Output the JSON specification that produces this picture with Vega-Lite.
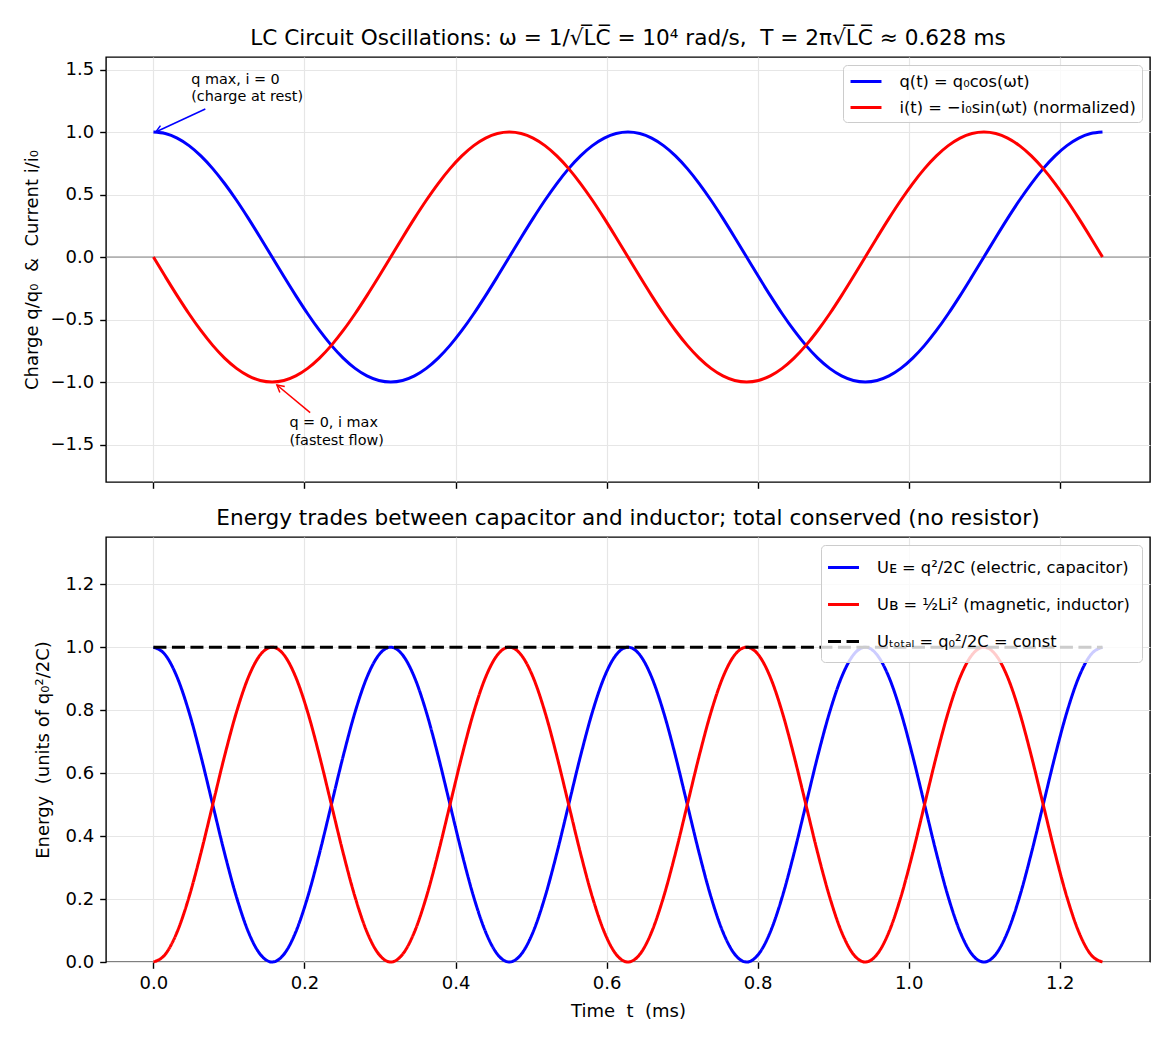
{
  "$schema": "https://vega.github.io/schema/vega-lite/v6.json",
  "padding": {"left": 23, "top": 27, "right": 20, "bottom": 5},
  "spacing": 17,
  "config": {
    "font": "DejaVu Sans",
    "view": {"stroke": "black", "strokeWidth": 1.4},
    "axis": {
      "labelFont": "DejaVu Sans", "labelFontSize": 18, "labelColor": "black",
      "titleFont": "DejaVu Sans", "titleFontSize": 18, "titleFontWeight": "normal", "titleColor": "black",
      "tickColor": "black", "tickWidth": 1.4, "tickSize": 6.3, "labelPadding": 6,
      "domain": false, "gridColor": "#e6e6e6", "gridWidth": 1.2, "titlePadding": 8
    },
    "title": {"font": "DejaVu Sans", "fontSize": 21.6, "fontWeight": "normal", "color": "black", "anchor": "middle", "offset": 7},
    "legend": {
      "orient": "top-right", "offset": 8, "labelFont": "DejaVu Sans", "labelFontSize": 16.25, "labelColor": "black",
      "labelLimit": 600, "symbolType": "M-1.72,0L1.72,0", "symbolSize": 324, "symbolStrokeWidth": 3,
      "fillColor": "rgba(255,255,255,0.8)", "strokeColor": "#cccccc", "cornerRadius": 4
    }
  },
  "datasets": {
    "lc": [
      {"t": 0, "q": 1, "i": 0, "ue": 1, "ub": 0, "tot": 1},
      {"t": 0.0157, "q": 0.9877, "i": -0.1564, "ue": 0.9755, "ub": 0.0245, "tot": 1},
      {"t": 0.0314, "q": 0.9511, "i": -0.309, "ue": 0.9045, "ub": 0.0955, "tot": 1},
      {"t": 0.0471, "q": 0.891, "i": -0.454, "ue": 0.7939, "ub": 0.2061, "tot": 1},
      {"t": 0.0628, "q": 0.809, "i": -0.5878, "ue": 0.6545, "ub": 0.3455, "tot": 1},
      {"t": 0.0785, "q": 0.7071, "i": -0.7071, "ue": 0.5, "ub": 0.5, "tot": 1},
      {"t": 0.0942, "q": 0.5878, "i": -0.809, "ue": 0.3455, "ub": 0.6545, "tot": 1},
      {"t": 0.11, "q": 0.454, "i": -0.891, "ue": 0.2061, "ub": 0.7939, "tot": 1},
      {"t": 0.1257, "q": 0.309, "i": -0.9511, "ue": 0.0955, "ub": 0.9045, "tot": 1},
      {"t": 0.1414, "q": 0.1564, "i": -0.9877, "ue": 0.0245, "ub": 0.9755, "tot": 1},
      {"t": 0.1571, "q": 0, "i": -1, "ue": 0, "ub": 1, "tot": 1},
      {"t": 0.1728, "q": -0.1564, "i": -0.9877, "ue": 0.0245, "ub": 0.9755, "tot": 1},
      {"t": 0.1885, "q": -0.309, "i": -0.9511, "ue": 0.0955, "ub": 0.9045, "tot": 1},
      {"t": 0.2042, "q": -0.454, "i": -0.891, "ue": 0.2061, "ub": 0.7939, "tot": 1},
      {"t": 0.2199, "q": -0.5878, "i": -0.809, "ue": 0.3455, "ub": 0.6545, "tot": 1},
      {"t": 0.2356, "q": -0.7071, "i": -0.7071, "ue": 0.5, "ub": 0.5, "tot": 1},
      {"t": 0.2513, "q": -0.809, "i": -0.5878, "ue": 0.6545, "ub": 0.3455, "tot": 1},
      {"t": 0.267, "q": -0.891, "i": -0.454, "ue": 0.7939, "ub": 0.2061, "tot": 1},
      {"t": 0.2827, "q": -0.9511, "i": -0.309, "ue": 0.9045, "ub": 0.0955, "tot": 1},
      {"t": 0.2985, "q": -0.9877, "i": -0.1564, "ue": 0.9755, "ub": 0.0245, "tot": 1},
      {"t": 0.3142, "q": -1, "i": 0, "ue": 1, "ub": 0, "tot": 1},
      {"t": 0.3299, "q": -0.9877, "i": 0.1564, "ue": 0.9755, "ub": 0.0245, "tot": 1},
      {"t": 0.3456, "q": -0.9511, "i": 0.309, "ue": 0.9045, "ub": 0.0955, "tot": 1},
      {"t": 0.3613, "q": -0.891, "i": 0.454, "ue": 0.7939, "ub": 0.2061, "tot": 1},
      {"t": 0.377, "q": -0.809, "i": 0.5878, "ue": 0.6545, "ub": 0.3455, "tot": 1},
      {"t": 0.3927, "q": -0.7071, "i": 0.7071, "ue": 0.5, "ub": 0.5, "tot": 1},
      {"t": 0.4084, "q": -0.5878, "i": 0.809, "ue": 0.3455, "ub": 0.6545, "tot": 1},
      {"t": 0.4241, "q": -0.454, "i": 0.891, "ue": 0.2061, "ub": 0.7939, "tot": 1},
      {"t": 0.4398, "q": -0.309, "i": 0.9511, "ue": 0.0955, "ub": 0.9045, "tot": 1},
      {"t": 0.4555, "q": -0.1564, "i": 0.9877, "ue": 0.0245, "ub": 0.9755, "tot": 1},
      {"t": 0.4712, "q": 0, "i": 1, "ue": 0, "ub": 1, "tot": 1},
      {"t": 0.4869, "q": 0.1564, "i": 0.9877, "ue": 0.0245, "ub": 0.9755, "tot": 1},
      {"t": 0.5027, "q": 0.309, "i": 0.9511, "ue": 0.0955, "ub": 0.9045, "tot": 1},
      {"t": 0.5184, "q": 0.454, "i": 0.891, "ue": 0.2061, "ub": 0.7939, "tot": 1},
      {"t": 0.5341, "q": 0.5878, "i": 0.809, "ue": 0.3455, "ub": 0.6545, "tot": 1},
      {"t": 0.5498, "q": 0.7071, "i": 0.7071, "ue": 0.5, "ub": 0.5, "tot": 1},
      {"t": 0.5655, "q": 0.809, "i": 0.5878, "ue": 0.6545, "ub": 0.3455, "tot": 1},
      {"t": 0.5812, "q": 0.891, "i": 0.454, "ue": 0.7939, "ub": 0.2061, "tot": 1},
      {"t": 0.5969, "q": 0.9511, "i": 0.309, "ue": 0.9045, "ub": 0.0955, "tot": 1},
      {"t": 0.6126, "q": 0.9877, "i": 0.1564, "ue": 0.9755, "ub": 0.0245, "tot": 1},
      {"t": 0.6283, "q": 1, "i": 0, "ue": 1, "ub": 0, "tot": 1},
      {"t": 0.644, "q": 0.9877, "i": -0.1564, "ue": 0.9755, "ub": 0.0245, "tot": 1},
      {"t": 0.6597, "q": 0.9511, "i": -0.309, "ue": 0.9045, "ub": 0.0955, "tot": 1},
      {"t": 0.6754, "q": 0.891, "i": -0.454, "ue": 0.7939, "ub": 0.2061, "tot": 1},
      {"t": 0.6912, "q": 0.809, "i": -0.5878, "ue": 0.6545, "ub": 0.3455, "tot": 1},
      {"t": 0.7069, "q": 0.7071, "i": -0.7071, "ue": 0.5, "ub": 0.5, "tot": 1},
      {"t": 0.7226, "q": 0.5878, "i": -0.809, "ue": 0.3455, "ub": 0.6545, "tot": 1},
      {"t": 0.7383, "q": 0.454, "i": -0.891, "ue": 0.2061, "ub": 0.7939, "tot": 1},
      {"t": 0.754, "q": 0.309, "i": -0.9511, "ue": 0.0955, "ub": 0.9045, "tot": 1},
      {"t": 0.7697, "q": 0.1564, "i": -0.9877, "ue": 0.0245, "ub": 0.9755, "tot": 1},
      {"t": 0.7854, "q": 0, "i": -1, "ue": 0, "ub": 1, "tot": 1},
      {"t": 0.8011, "q": -0.1564, "i": -0.9877, "ue": 0.0245, "ub": 0.9755, "tot": 1},
      {"t": 0.8168, "q": -0.309, "i": -0.9511, "ue": 0.0955, "ub": 0.9045, "tot": 1},
      {"t": 0.8325, "q": -0.454, "i": -0.891, "ue": 0.2061, "ub": 0.7939, "tot": 1},
      {"t": 0.8482, "q": -0.5878, "i": -0.809, "ue": 0.3455, "ub": 0.6545, "tot": 1},
      {"t": 0.8639, "q": -0.7071, "i": -0.7071, "ue": 0.5, "ub": 0.5, "tot": 1},
      {"t": 0.8796, "q": -0.809, "i": -0.5878, "ue": 0.6545, "ub": 0.3455, "tot": 1},
      {"t": 0.8954, "q": -0.891, "i": -0.454, "ue": 0.7939, "ub": 0.2061, "tot": 1},
      {"t": 0.9111, "q": -0.9511, "i": -0.309, "ue": 0.9045, "ub": 0.0955, "tot": 1},
      {"t": 0.9268, "q": -0.9877, "i": -0.1564, "ue": 0.9755, "ub": 0.0245, "tot": 1},
      {"t": 0.9425, "q": -1, "i": 0, "ue": 1, "ub": 0, "tot": 1},
      {"t": 0.9582, "q": -0.9877, "i": 0.1564, "ue": 0.9755, "ub": 0.0245, "tot": 1},
      {"t": 0.9739, "q": -0.9511, "i": 0.309, "ue": 0.9045, "ub": 0.0955, "tot": 1},
      {"t": 0.9896, "q": -0.891, "i": 0.454, "ue": 0.7939, "ub": 0.2061, "tot": 1},
      {"t": 1.0053, "q": -0.809, "i": 0.5878, "ue": 0.6545, "ub": 0.3455, "tot": 1},
      {"t": 1.021, "q": -0.7071, "i": 0.7071, "ue": 0.5, "ub": 0.5, "tot": 1},
      {"t": 1.0367, "q": -0.5878, "i": 0.809, "ue": 0.3455, "ub": 0.6545, "tot": 1},
      {"t": 1.0524, "q": -0.454, "i": 0.891, "ue": 0.2061, "ub": 0.7939, "tot": 1},
      {"t": 1.0681, "q": -0.309, "i": 0.9511, "ue": 0.0955, "ub": 0.9045, "tot": 1},
      {"t": 1.0838, "q": -0.1564, "i": 0.9877, "ue": 0.0245, "ub": 0.9755, "tot": 1},
      {"t": 1.0996, "q": 0, "i": 1, "ue": 0, "ub": 1, "tot": 1},
      {"t": 1.1153, "q": 0.1564, "i": 0.9877, "ue": 0.0245, "ub": 0.9755, "tot": 1},
      {"t": 1.131, "q": 0.309, "i": 0.9511, "ue": 0.0955, "ub": 0.9045, "tot": 1},
      {"t": 1.1467, "q": 0.454, "i": 0.891, "ue": 0.2061, "ub": 0.7939, "tot": 1},
      {"t": 1.1624, "q": 0.5878, "i": 0.809, "ue": 0.3455, "ub": 0.6545, "tot": 1},
      {"t": 1.1781, "q": 0.7071, "i": 0.7071, "ue": 0.5, "ub": 0.5, "tot": 1},
      {"t": 1.1938, "q": 0.809, "i": 0.5878, "ue": 0.6545, "ub": 0.3455, "tot": 1},
      {"t": 1.2095, "q": 0.891, "i": 0.454, "ue": 0.7939, "ub": 0.2061, "tot": 1},
      {"t": 1.2252, "q": 0.9511, "i": 0.309, "ue": 0.9045, "ub": 0.0955, "tot": 1},
      {"t": 1.2409, "q": 0.9877, "i": 0.1564, "ue": 0.9755, "ub": 0.0245, "tot": 1},
      {"t": 1.2566, "q": 1, "i": 0, "ue": 1, "ub": 0, "tot": 1}
    ]
  },
  "vconcat": [
    {
      "width": 1044,
      "height": 425,
      "title": {"text": "LC Circuit Oscillations: ω = 1/√L̅C̅ = 10⁴ rad/s,\u00a0\u00a0T = 2π√L̅C̅ ≈ 0.628 ms"},
      "encoding": {
        "x": {"field": "t", "type": "quantitative", "scale": {"domain": [-0.0628, 1.3195], "nice": false, "zero": false},
              "axis": {"values": [0, 0.2, 0.4, 0.6, 0.8, 1.0, 1.2], "labels": false, "title": null, "grid": true}},
        "y": {"field": "value", "type": "quantitative", "scale": {"domain": [-1.8, 1.6], "nice": false, "zero": false},
              "axis": {"values": [-1.5, -1, -0.5, 0, 0.5, 1, 1.5], "format": ".1f", "title": "Charge q/q₀\u00a0\u00a0&\u00a0\u00a0Current i/i₀", "grid": true}}
      },
      "layer": [
        {
          "data": {"values": [{"t": -0.0628, "value": 0}, {"t": 1.3195, "value": 0}]},
          "mark": {"type": "line", "color": "#666666", "strokeWidth": 0.8},
          "encoding": {}
        },
        {
          "data": {"name": "lc"},
          "transform": [{"fold": ["q", "i"], "as": ["series", "value"]}],
          "mark": {"type": "line", "strokeWidth": 3, "interpolate": "monotone"},
          "encoding": {
            "color": {"field": "series", "type": "nominal",
                      "scale": {"domain": ["q", "i"], "range": ["#0000ff", "#ff0000"]},
                      "legend": {"title": null, "rowPadding": 7, "padding": 6, "symbolOffset": 6.5, "labelOffset": 23,
                                 "labelExpr": "datum.value === 'q' ? 'q(t) = q₀cos(ωt)' : 'i(t) = −i₀sin(ωt) (normalized)'"}}
          }
        },
        {
          "data": {"values": [{"t": 0.003, "value": 1.0, "t2": 0.0687, "value2": 1.184}]},
          "layer": [
            {
              "mark": {"type": "rule", "color": "#0000ff", "strokeWidth": 1.5},
              "encoding": {"x2": {"field": "t2"}, "y2": {"field": "value2"}}
            },
            {
              "mark": {"type": "point", "shape": "M-0.55,1L0,0L0.55,1", "angle": 245.5, "size": 196, "filled": false, "stroke": "#0000ff", "strokeWidth": 1.5, "opacity": 1},
              "encoding": {}
            }
          ]
        },
        {
          "data": {"values": [{"t": 0.1635, "value": -1.024, "t2": 0.2075, "value2": -1.245}]},
          "layer": [
            {
              "mark": {"type": "rule", "color": "#ff0000", "strokeWidth": 1.5},
              "encoding": {"x2": {"field": "t2"}, "y2": {"field": "value2"}}
            },
            {
              "mark": {"type": "point", "shape": "M-0.55,1L0,0L0.55,1", "angle": 309.7, "size": 196, "filled": false, "stroke": "#ff0000", "strokeWidth": 1.5, "opacity": 1},
              "encoding": {}
            }
          ]
        },
        {
          "data": {"values": [
            {"t": 0.05, "value": 1.386, "note": "q max, i = 0\n(charge at rest)"},
            {"t": 0.18, "value": -1.362, "note": "q = 0, i max\n(fastest flow)"}
          ]},
          "mark": {"type": "text", "align": "left", "baseline": "alphabetic", "fontSize": 14.4, "lineHeight": 17.3, "lineBreak": "\n", "color": "black"},
          "encoding": {"text": {"field": "note"}}
        }
      ]
    },
    {
      "width": 1044,
      "height": 425,
      "title": {"text": "Energy trades between capacitor and inductor; total conserved (no resistor)"},
      "data": {"name": "lc"},
      "transform": [{"fold": ["ue", "ub", "tot"], "as": ["series", "value"]}],
      "mark": {"type": "line", "strokeWidth": 3, "interpolate": "monotone"},
      "encoding": {
        "x": {"field": "t", "type": "quantitative", "scale": {"domain": [-0.0628, 1.3195], "nice": false, "zero": false},
              "axis": {"values": [0, 0.2, 0.4, 0.6, 0.8, 1.0, 1.2], "format": ".1f", "title": "Time\u00a0\u00a0t\u00a0\u00a0(ms)", "grid": true, "titlePadding": 10}},
        "y": {"field": "value", "type": "quantitative", "scale": {"domain": [0, 1.35], "nice": false, "zero": false},
              "axis": {"values": [0, 0.2, 0.4, 0.6, 0.8, 1.0, 1.2], "format": ".1f", "title": "Energy\u00a0\u00a0(units of q₀²/2C)", "grid": true, "titlePadding": 13}},
        "color": {"field": "series", "type": "nominal",
                  "scale": {"domain": ["ue", "ub", "tot"], "range": ["#0000ff", "#ff0000", "#000000"]},
                  "legend": {"title": null, "rowPadding": 18, "padding": 12, "symbolOffset": 0, "labelOffset": 23,
                             "labelExpr": "datum.value === 'ue' ? 'Uᴇ = q²/2C (electric, capacitor)' : datum.value === 'ub' ? 'Uʙ = ½Li² (magnetic, inductor)' : 'Uₜₒₜₐₗ = q₀²/2C = const'"}},
        "strokeDash": {"field": "series", "type": "nominal",
                       "scale": {"domain": ["ue", "ub", "tot"], "range": [[1, 0], [1, 0], [13, 5.5]]},
                       "legend": {"title": null, "rowPadding": 18, "padding": 12, "symbolOffset": 0, "labelOffset": 23,
                                  "labelExpr": "datum.value === 'ue' ? 'Uᴇ = q²/2C (electric, capacitor)' : datum.value === 'ub' ? 'Uʙ = ½Li² (magnetic, inductor)' : 'Uₜₒₜₐₗ = q₀²/2C = const'"}}
      }
    }
  ],
  "resolve": {"scale": {"color": "independent", "strokeDash": "independent"}}
}
